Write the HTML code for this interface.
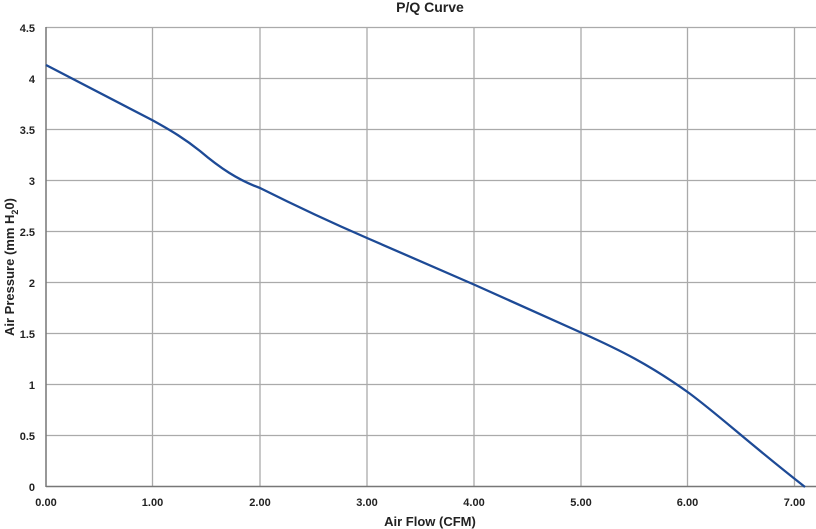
<!DOCTYPE html>
<html><head><style>body{margin:0;background:#fff}svg{display:block}text{font-family:"Liberation Sans",sans-serif;font-weight:bold;fill:#222}</style></head>
<body>
<svg width="816" height="529" viewBox="0 0 816 529">
<g stroke="#aaa" stroke-width="1.3">
<line x1="46" y1="27.5" x2="816" y2="27.5"/><line x1="46" y1="78.5" x2="816" y2="78.5"/><line x1="46" y1="129.5" x2="816" y2="129.5"/><line x1="46" y1="180.5" x2="816" y2="180.5"/><line x1="46" y1="231.5" x2="816" y2="231.5"/><line x1="46" y1="282.5" x2="816" y2="282.5"/><line x1="46" y1="333.5" x2="816" y2="333.5"/><line x1="46" y1="384.5" x2="816" y2="384.5"/><line x1="46" y1="435.5" x2="816" y2="435.5"/>
<line x1="152.5" y1="27.5" x2="152.5" y2="486.5"/><line x1="260" y1="27.5" x2="260" y2="486.5"/><line x1="367" y1="27.5" x2="367" y2="486.5"/><line x1="474" y1="27.5" x2="474" y2="486.5"/><line x1="581" y1="27.5" x2="581" y2="486.5"/><line x1="687.5" y1="27.5" x2="687.5" y2="486.5"/><line x1="794.5" y1="27.5" x2="794.5" y2="486.5"/>
</g>
<g stroke="#777" stroke-width="1.5"><line x1="46" y1="27" x2="46" y2="487"/><line x1="46" y1="486.5" x2="816" y2="486.5"/></g>
<path d="M46,65 L152,120 C172,131 185,139 200,151 C220,168 238,180 260,188 C290,203 330,222 367,238 L475,285 L582,333 C620,350 650,365 689,393 C720,416 745,440 805,487" fill="none" stroke="#1d4a96" stroke-width="2.3"/>
<g font-size="11" text-anchor="end">
<text x="35" y="32">4.5</text><text x="35" y="83">4</text><text x="35" y="134">3.5</text><text x="35" y="185">3</text><text x="35" y="236">2.5</text><text x="35" y="287">2</text><text x="35" y="338">1.5</text><text x="35" y="389">1</text><text x="35" y="440">0.5</text><text x="35" y="491">0</text></g>
<g font-size="11" text-anchor="middle">
<text x="46" y="506">0.00</text><text x="152.5" y="506">1.00</text><text x="260" y="506">2.00</text><text x="367" y="506">3.00</text><text x="474" y="506">4.00</text><text x="581" y="506">5.00</text><text x="687.5" y="506">6.00</text><text x="794.5" y="506">7.00</text></g>
<text x="430" y="526" font-size="13" text-anchor="middle">Air Flow (CFM)</text>
<text x="430" y="12" font-size="14" text-anchor="middle">P/Q Curve</text>
<text transform="translate(14,267) rotate(-90)" font-size="13" text-anchor="middle">Air Pressure (mm H<tspan font-size="9" dy="4">2</tspan><tspan dy="-4">0)</tspan></text>
</svg>
</body></html>
